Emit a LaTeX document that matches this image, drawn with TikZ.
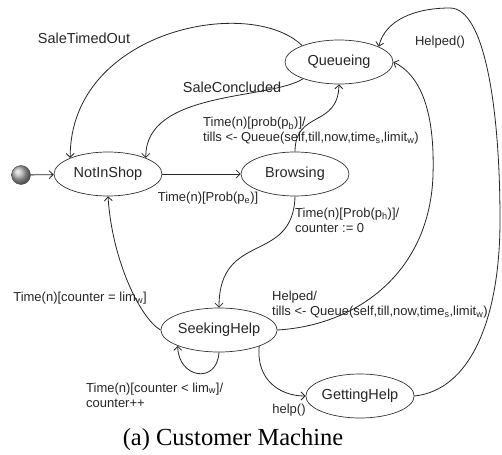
\documentclass[tikz,border=0pt]{standalone}
\usepackage{fontspec}
\setmainfont{Liberation Serif}
\setsansfont{Liberation Sans}
\usetikzlibrary{shapes.geometric,arrows.meta}

\begin{document}
\begin{tikzpicture}[x=1pt, y=-1pt,
  state/.style={draw=black!80, ellipse, minimum width=108pt, minimum height=44pt,
    inner sep=0pt, line width=0.7pt, text=black!85,
    font=\sffamily\fontsize{14.5}{17}\selectfont},
  lbl/.style={inner sep=0pt, align=left, text=black!85,
    font=\sffamily\fontsize{13}{15}\selectfont},
  biglbl/.style={inner sep=0pt, text=black!85, font=\sffamily\fontsize{14.5}{17}\selectfont},
  trans/.style={-{Straight Barb[length=4pt,width=8pt]}, draw=black!85, line width=0.8pt}]
  \useasboundingbox (0,0) rectangle (502,454);

  % states
  \node[circle, draw=black!70, shading=ball, ball color=gray!60, minimum size=19pt,
    inner sep=0pt] (init) at (21,175) {};
  \node[state] (notin) at (108,174) {NotInShop};
  \node[state] (brows) at (295,174) {Browsing};
  \node[state] (queue) at (339,62) {Queueing};
  \node[state] (seek) at (219,330) {SeekingHelp};
  \node[state] (getting) at (360,396) {GettingHelp};

  % transitions
  \draw[trans] (init) -- (notin);
  \draw[trans] (notin) -- (brows);
  \draw[trans] (queue.156) .. controls (250,-5) and (70,30) .. (notin.157);
  \draw[trans] (queue.205) .. controls (270,100) and (145,90) .. (notin.23);
  \draw[trans] (brows.north) .. controls (295,110) and (338,128) .. (queue.south);
  \draw[trans] (brows.south) .. controls (293,265) and (219,230) .. (seek.north);
  \draw[trans] (seek.west) .. controls (140,318) and (112,260) .. (notin.south);
  \draw[trans] (seek.south) .. controls (217,385) and (178,378) .. (seek.201);
  \draw[trans] (seek.east) .. controls (360,325) and (430,270) .. (433,175)
    .. controls (435,110) and (420,75) .. (queue.east);
  \draw[trans] (seek.338) .. controls (256,380) and (280,396) .. (getting.west);
  \draw[trans] (getting.east) .. controls (470,390) and (500,320) .. (500,220)
    .. controls (500,110) and (485,8) .. (450,8)
    .. controls (415,8) and (385,20) .. (queue.21);

  % labels
  \node[biglbl] (lto) at (84,38) {SaleTimedOut};
  \node[biglbl] (lconc) at (232,87) {SaleConcluded};
  \node[lbl, anchor=west] (lqueue) at (203,131)
    {Time(n)[prob(p\textsubscript{b})]/\\
     tills <- Queue(self,till,now,time\textsubscript{s},limit\textsubscript{w})};
  \node[lbl] (lenter) at (208,198) {Time(n)[Prob(p\textsubscript{e})]};
  \node[lbl, anchor=west] (lhelp) at (295,220) {Time(n)[Prob(p\textsubscript{h})]/\\counter := 0};
  \node[lbl] (llim) at (80,298) {Time(n)[counter = lim\textsubscript{w}]};
  \node[lbl, anchor=west] (lhelped) at (272,305)
    {Helped/\\
     tills <- Queue(self,till,now,time\textsubscript{s},limit\textsubscript{w})};
  \node[lbl, anchor=west] (lcount) at (86,395)
    {Time(n)[counter < lim\textsubscript{w}]/\\counter++};
  \node[lbl] (lhelpf) at (289,410) {help()};
  \node[lbl] (lhelpedf) at (440,42) {Helped()};

  \node[inner sep=0pt, font=\fontsize{24.5}{28}\selectfont] (cap) at (233,440)
    {(a) Customer Machine};
\end{tikzpicture}
\end{document}
